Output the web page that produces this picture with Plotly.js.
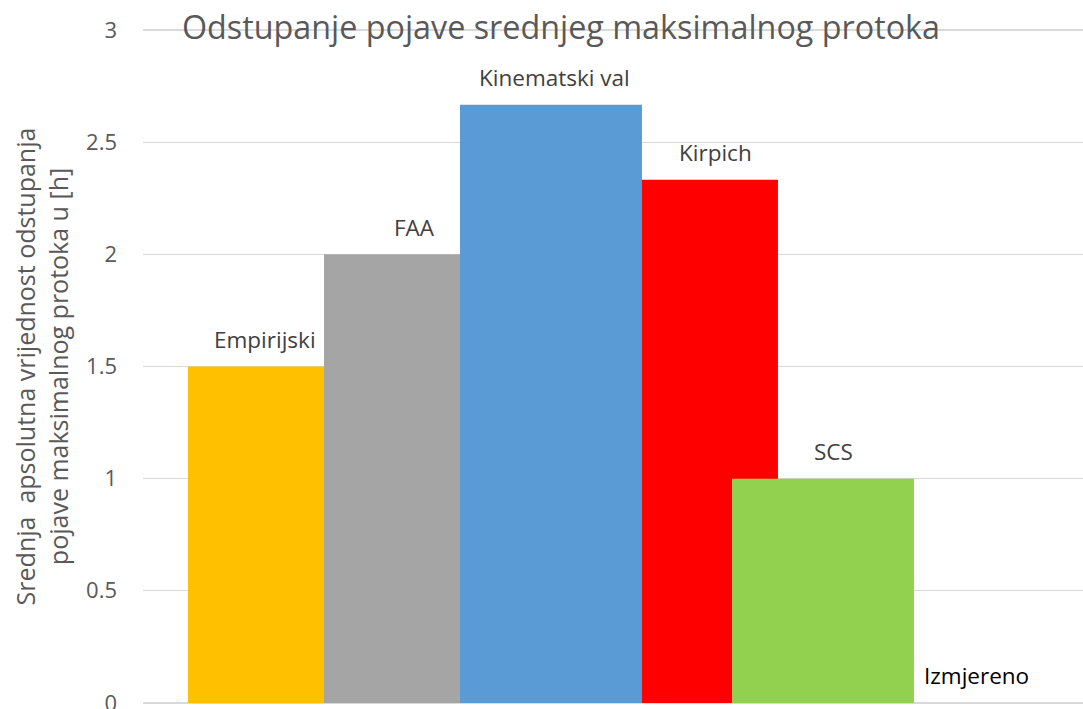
<!DOCTYPE html>
<html>
<head>
<meta charset="utf-8">
<script src="https://cdn.plot.ly/plotly-3.0.1.min.js"></script>
<style>html,body{margin:0;padding:0;background:#fff;}#chart{width:1083px;height:709px;}</style>
</head>
<body>
<div id="chart"></div>
<script>
// ---- data ----
var categories = ["Empirijski", "FAA", "Kinematski val", "Kirpich", "SCS", "Izmjereno"];
var values = [1.5, 2.0, 2.667, 2.333, 1.0, 0.0];
var colors = ["#FFC000", "#A5A5A5", "#5B9BD5", "#FF0000", "#92D050", "#4472C4"];
var yTicks = [0, 0.5, 1, 1.5, 2, 2.5, 3];
var yTickLabels = ["0", "0.5", "1", "1.5", "2", "2.5", "3"];
var titleText = "Odstupanje pojave srednjeg maksimalnog protoka";
var yTitleText = "Srednja  apsolutna vrijednost odstupanja<br>pojave maksimalnog protoka u [h]";

// ---- style (not data) ----
var drawOrder = [0, 1, 3, 2, 4, 5];
var labelShift = [-14, 0, 4, 29, 11, 18];
var labelColor = ["#404040", "#404040", "#404040", "#404040", "#404040", "#000000"];
var barWidth = 1.338;
var FONT = "Open Sans, sans-serif";

var traces = drawOrder.map(function (i) {
  return {
    type: "bar",
    x: [i],
    y: [values[i]],
    name: categories[i],
    width: [barWidth],
    marker: {color: colors[i], line: {width: 0}},
    hoverinfo: "skip"
  };
});

var annotations = categories.map(function (c, i) {
  return {
    x: i, y: values[i], xref: "x", yref: "y",
    text: c, showarrow: false,
    xanchor: "center", yanchor: "middle",
    xshift: labelShift[i], yshift: 27,
    font: {family: FONT, size: 22.5, color: labelColor[i]}
  };
});

var layout = {
  width: 1083, height: 709,
  margin: {l: 143, r: 0, t: 29, b: 5, pad: 0},
  paper_bgcolor: "#ffffff", plot_bgcolor: "#ffffff",
  barmode: "overlay",
  showlegend: false,
  title: {
    text: titleText,
    x: 0.518, xanchor: "center", xref: "container",
    y: 1 - 28 / 709, yanchor: "middle", yref: "container",
    font: {family: FONT, size: 32.3, color: "#595959"}
  },
  xaxis: {
    range: [-1, 5.912], showgrid: false, zeroline: false,
    showticklabels: false, ticks: "", showline: false, fixedrange: true
  },
  yaxis: {
    range: [-0.005, 3.005], tickvals: yTicks, ticktext: yTickLabels,
    showgrid: true, gridcolor: "#D9D9D9", gridwidth: 1.3,
    zeroline: false, showline: false, ticks: "",
    ticklabelstandoff: 25, ticklabeloverflow: "allow",
    tickfont: {family: FONT, size: 22, color: "#595959"},
    title: {text: yTitleText, standoff: 10, font: {family: FONT, size: 25, color: "#595959"}},
    automargin: false, fixedrange: true
  },
  annotations: annotations
};

Plotly.newPlot("chart", traces, layout, {displayModeBar: false, staticPlot: true});
</script>
</body>
</html>
